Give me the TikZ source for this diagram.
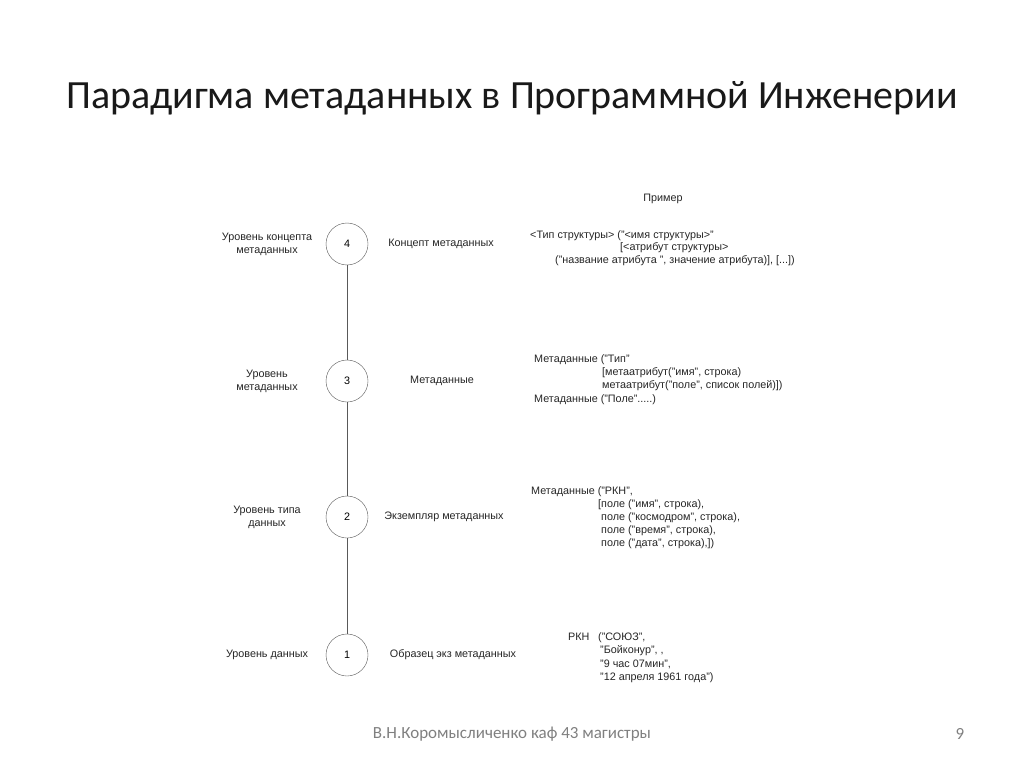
\documentclass[tikz,border=0pt]{standalone}
\usepackage{fontspec}
\setmainfont{Liberation Sans}
\newfontfamily\slidefont{Carlito}
\usetikzlibrary{positioning}

\begin{document}
\begin{tikzpicture}[x=1pt,y=-1pt,
  lvl/.style={circle,draw=black!65,minimum size=42pt,inner sep=0pt,font=\fontsize{10.8}{12}\selectfont},
  txt/.style={inner sep=0pt,text height=7.8pt,text depth=2.2pt,font=\fontsize{10.8}{13}\selectfont,text=black!85},
  ex/.style={txt,anchor=west}]
  \useasboundingbox[fill=white] (0,0) rectangle (1024,767);
  % zagolovok
  \node[font=\slidefont\fontsize{40}{44}\selectfont,text=black!90] (title) at (512,98) {Парадигма метаданных в Программной Инженерии};
  % urovni
  \foreach \n/\y in {4/244,3/381,2/517,1/655} {\node[lvl] (c\n) at (347,\y) {\n};}
  \draw[black!65] (c4)--(c3); \draw[black!65] (c3)--(c2); \draw[black!65] (c2)--(c1);
  % sleva
  \node[txt,align=center,text height=,text depth=] (l4) at (267,244) {Уровень концепта\\метаданных};
  \node[txt,align=center,text height=,text depth=] (l3) at (267,381) {Уровень\\метаданных};
  \node[txt,align=center,text height=,text depth=] (l2) at (267,517) {Уровень типа\\данных};
  \node[txt] (l1) at (267,655) {Уровень данных};
  % uprostred
  \node[txt] (m4) at (441,244) {Концепт метаданных};
  \node[txt] (m3) at (442,381) {Метаданные};
  \node[txt] (m2) at (444,517) {Экземпляр метаданных};
  \node[txt] (m1) at (453,655) {Образец экз метаданных};
  % primery
  \node[txt] (pr) at (663,199) {Пример};
  \node[ex] (e4a) at (530,236) {<Тип структуры> ("<имя структуры>"};
  \node[ex] (e4b) at (620,248) {[<атрибут структуры>};
  \node[ex] (e4c) at (555,261) {("название атрибута ", значение атрибута)], [...])};
  \node[ex] (e3a) at (534,360) {Метаданные ("Тип"};
  \node[ex] (e3b) at (602,373) {[метаатрибут("имя", строка)};
  \node[ex] (e3c) at (602,386) {метаатрибут("поле", список полей)])};
  \node[ex] (e3d) at (534,400) {Метаданные ("Поле".....)};
  \node[ex] (e2a) at (531,492) {Метаданные ("РКН",};
  \node[ex] (e2b) at (598,505) {[поле ("имя", строка),};
  \node[ex] (e2c) at (601,518) {поле ("космодром", строка),};
  \node[ex] (e2d) at (601,531) {поле ("время", строка),};
  \node[ex] (e2e) at (601,544) {поле ("дата", строка),])};
  \node[ex] (e1a) at (568,638) {РКН};
  \node[ex] (e1b) at (598,638) {("СОЮЗ",};
  \node[ex] (e1c) at (600,651) {"Бойконур", ,};
  \node[ex] (e1d) at (600,665) {"9 час 07мин",};
  \node[ex] (e1e) at (600,678) {"12 апреля 1961 года")};
  % podval
  \node[font=\slidefont\fontsize{17}{19}\selectfont,text=black!50] (foot) at (512,734) {В.Н.Коромысличенко каф 43 магистры};
  \node[font=\slidefont\fontsize{17}{19}\selectfont,text=black!50] (num) at (960,734) {9};
\end{tikzpicture}
\end{document}
